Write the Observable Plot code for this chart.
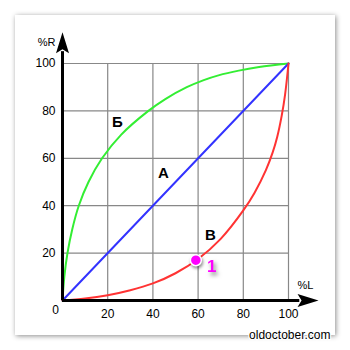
<!DOCTYPE html>
<html>
<head>
<meta charset="utf-8">
<script src="https://cdn.jsdelivr.net/npm/d3@7"></script>
<script src="https://cdn.jsdelivr.net/npm/@observablehq/plot@0.6"></script>
<style>
  html, body { margin: 0; padding: 0; background: #fff; }
  #wrap { position: relative; width: 350px; height: 350px; }
  #panel { position: absolute; left: 15px; top: 15px; width: 320px; height: 320px; background: #fff;
           box-shadow: 1px 1px 5px rgba(0,0,0,0.45); }
  #chart { position: absolute; left: 0; top: 0; }
  #chart svg { background: transparent; font-family: "Liberation Sans", Arial, sans-serif; }
</style>
</head>
<body>
<div id="wrap"><div id="panel"></div><div id="chart"></div></div>
<script>
const ticks = [20, 40, 60, 80, 100];
const tickLabels = ["20", "40", "60", "80", "100"];

const blueL = [0, 100];
const blueR = [0, 100];

const greenL = [0, 0.8, 2.2, 4.3, 7.2, 11.5, 17.5, 26, 38, 45.5, 55, 62.5, 69, 78, 87, 100];
const greenR = [0, 10, 20, 30, 40, 50, 60, 70, 80, 85, 90, 93, 95, 97, 98.5, 100];

const redL = [0, 10, 20, 30, 40, 50, 60, 70, 80, 85, 90, 93, 95, 97, 98.5, 100];
const redR = [0, 0.8, 2.2, 4.3, 7.2, 11.5, 17.5, 26, 38, 45.5, 55, 62.5, 69, 78, 87, 100];

const curveLabels = ["А", "Б", "В"];
const curveLabelX = [44.7, 24.3, 65.5];
const curveLabelY = [53.6, 75.1, 27.4];

const pointX = [59];
const pointY = [17];
const pointLabel = ["1"];

const toPts = (xs, ys) => xs.map((x, i) => ({x, y: ys[i]}));

const upArrow = { draw(ctx) { ctx.moveTo(0, 0); ctx.lineTo(6.5, 21); ctx.lineTo(0, 17); ctx.lineTo(-6.5, 21); ctx.closePath(); } };
const rightArrow = { draw(ctx) { ctx.moveTo(0, 0); ctx.lineTo(-21, -6.5); ctx.lineTo(-17, 0); ctx.lineTo(-21, 6.5); ctx.closePath(); } };

const chart = Plot.plot({
  width: 350, height: 350,
  marginLeft: 62, marginRight: 62, marginTop: 63, marginBottom: 50,
  x: {domain: [0, 100], axis: null},
  y: {domain: [0, 100], axis: null},
  style: {background: "transparent", fontFamily: "Liberation Sans, Arial, sans-serif"},
  marks: [
    Plot.ruleX(ticks, {y1: 0, y2: 100, stroke: "#888", strokeWidth: 1.2}),
    Plot.ruleY(ticks, {x1: 0, x2: 100, stroke: "#888", strokeWidth: 1.2}),
    Plot.line(toPts(greenL, greenR), {x: "x", y: "y", stroke: "#33ee33", strokeWidth: 2, curve: "catmull-rom"}),
    Plot.line(toPts(blueL, blueR), {x: "x", y: "y", stroke: "#3333ff", strokeWidth: 2}),
    Plot.line(toPts(redL, redR), {x: "x", y: "y", stroke: "#ff3333", strokeWidth: 2, curve: "catmull-rom"}),
    Plot.ruleX([0], {y1: 0, y2: 105, stroke: "#000", strokeWidth: 3}),
    Plot.ruleY([0], {x1: 0, x2: 105, stroke: "#000", strokeWidth: 3}),
    Plot.dot([{x: 0, y: 113.2}], {x: "x", y: "y", symbol: upArrow, fill: "#000", stroke: "none"}),
    Plot.dot([{x: 113.3, y: 0}], {x: "x", y: "y", symbol: rightArrow, fill: "#000", stroke: "none"}),
    Plot.text(ticks, {x: 0, y: d => d, text: (d, i) => tickLabels[i], dx: -7, textAnchor: "end", fontSize: 12, fill: "#000"}),
    Plot.text(ticks, {x: d => d, y: 0, text: (d, i) => tickLabels[i], dy: 14, fontSize: 12, fill: "#000"}),
    Plot.text(["0"], {x: 0, y: 0, text: d => d, dx: -7, dy: 10, fontSize: 12, fill: "#000"}),
    Plot.text(["%R"], {x: 0, y: 109, text: d => d, dx: -16, fontSize: 11, fill: "#000"}),
    Plot.text(["%L"], {x: 107.5, y: 6.3, text: d => d, fontSize: 11, fill: "#000"}),
    Plot.text(curveLabels, {x: (d, i) => curveLabelX[i], y: (d, i) => curveLabelY[i], text: d => d, fontSize: 15, fontWeight: "bold", fill: "#000"}),
    Plot.dot(pointX, {x: d => d, y: (d, i) => pointY[i], r: 5.5, fill: "#ff00ff", stroke: "#fff", strokeWidth: 1.5, imageFilter: "drop-shadow(1px 2px 1.5px rgba(0,0,0,0.45))"}),
    Plot.text(pointLabel, {x: (d, i) => pointX[i], y: (d, i) => pointY[i], text: d => d, dx: 16, dy: 6, fontSize: 17, fontWeight: "bold", fill: "#ff00ff", imageFilter: "drop-shadow(2px 3px 2px rgba(0,0,0,0.5))"}),
    Plot.text(["oldoctober.com"], {frameAnchor: "bottom-right", text: d => d, dx: 42, dy: 38, textAnchor: "end", fontSize: 12, fill: "#000", stroke: "#fff", strokeWidth: 2.5})
  ]
});
document.getElementById("chart").appendChild(chart);
</script>
</body>
</html>
